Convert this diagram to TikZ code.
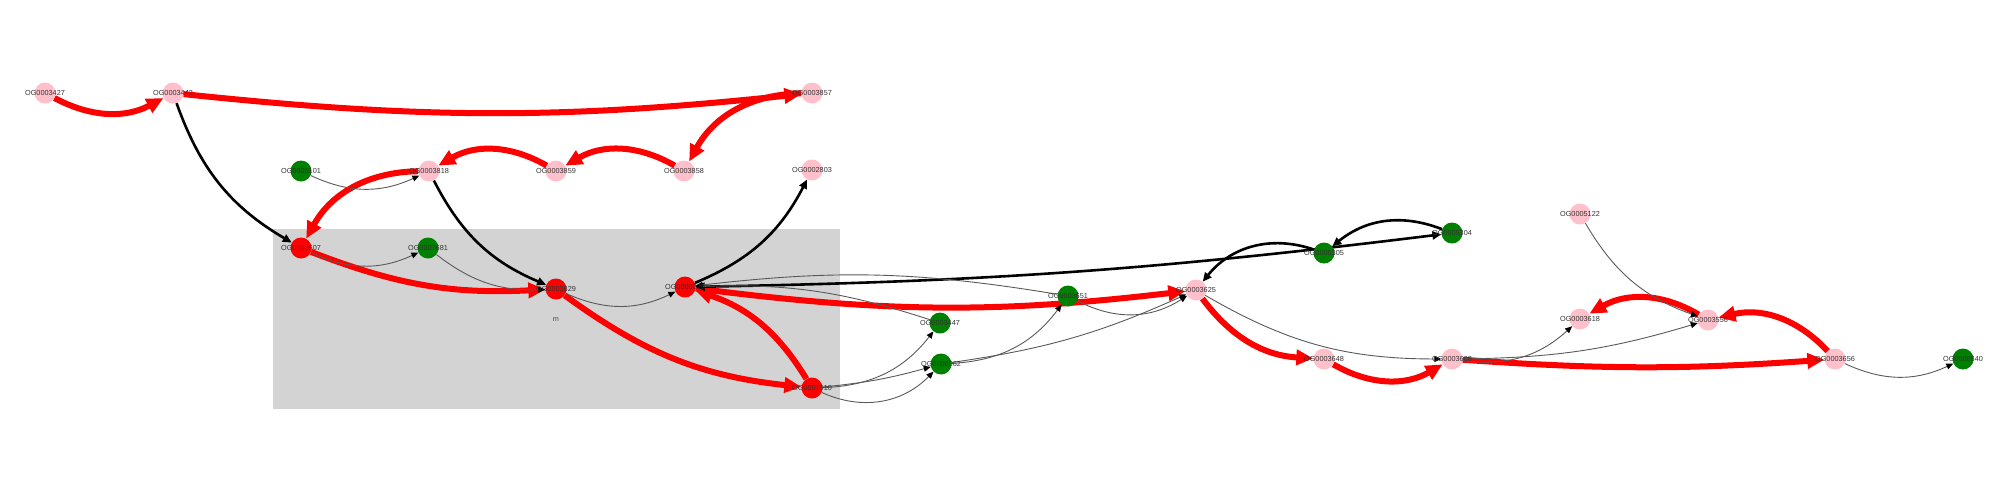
\documentclass[tikz,border=0pt]{standalone}
\usepackage{fontspec}
\setmainfont{Liberation Sans}
\usetikzlibrary{arrows.meta}
\pgfdeclarelayer{back}
\pgfdeclarelayer{links}
\pgfsetlayers{back,links,main}
\definecolor{ogpink}{HTML}{FFC0CB}
\definecolor{oggreen}{HTML}{008000}
\definecolor{ogred}{HTML}{FF0000}
\definecolor{oggray}{HTML}{D3D3D3}

\tikzset{
  hottip/.tip={Triangle[length=17pt,width=15pt]},
  strongtip/.tip={Triangle[length=9pt,width=8pt]},
  weaktip/.tip={Triangle[length=7pt,width=6pt,color=black]},
  og/.style={circle, minimum size=21pt, inner sep=0pt, fill=#1},
  oglabel/.style={font=\fontsize{7.3}{8}\selectfont, text=black!80, inner sep=0pt},
  hot/.style={ogred, line width=6pt, -hottip},
  strong/.style={black, line width=2.6pt, -strongtip},
  weak/.style={black!65, line width=0.9pt, -weaktip},
}

\begin{document}
\begin{tikzpicture}[x=1pt,y=-1pt]
\useasboundingbox (0,0) rectangle (1999,480);

% module box
\begin{pgfonlayer}{back}
\fill[oggray] (273,229) rectangle (840,409);
\end{pgfonlayer}
\node[oglabel, text=black!70] (mlabel) at (556,320) {m};

% orthogroups
\node[og=ogpink, label={[oglabel]center:OG0003427}] (n3427) at (45,93) {};
\node[og=ogpink, label={[oglabel]center:OG0003442}] (n3442) at (173,93) {};
\node[og=ogpink, label={[oglabel]center:OG0003857}] (n3857) at (812,93) {};
\node[og=oggreen, label={[oglabel]center:OG0000101}] (n0101) at (301,171) {};
\node[og=ogpink, label={[oglabel]center:OG0003818}] (n3818) at (429,171) {};
\node[og=ogpink, label={[oglabel]center:OG0003859}] (n3859) at (556,171) {};
\node[og=ogpink, label={[oglabel]center:OG0003858}] (n3858) at (684,171) {};
\node[og=ogpink, label={[oglabel]center:OG0002803}] (n2803) at (812,170) {};
\node[og=ogred, label={[oglabel]center:OG0003607}] (n3607) at (301,248) {};
\node[og=oggreen, label={[oglabel]center:OG0007681}] (n7681) at (428,248) {};
\node[og=ogred, label={[oglabel]center:OG0003829}] (n3829) at (556,289) {};
\node[og=ogred, label={[oglabel]center:OG0000229}] (n0229) at (685,287) {};
\node[og=ogred, label={[oglabel]center:OG0001910}] (n1910) at (812,388) {};
\node[og=oggreen, label={[oglabel]center:OG0003447}] (n3447) at (940,323) {};
\node[og=oggreen, label={[oglabel]center:OG0006862}] (n6862) at (941,364) {};
\node[og=oggreen, label={[oglabel]center:OG0003651}] (n3651) at (1068,296) {};
\node[og=ogpink, label={[oglabel]center:OG0003625}] (n3625) at (1196,290) {};
\node[og=oggreen, label={[oglabel]center:OG0005305}] (n5305) at (1324,253) {};
\node[og=oggreen, label={[oglabel]center:OG0005304}] (n5304) at (1452,233) {};
\node[og=ogpink, label={[oglabel]center:OG0005122}] (n5122) at (1580,214) {};
\node[og=ogpink, label={[oglabel]center:OG0003618}] (n3618) at (1580,319) {};
\node[og=ogpink, label={[oglabel]center:OG0003556}] (n3556) at (1708,320) {};
\node[og=ogpink, label={[oglabel]center:OG0003648}] (n3648) at (1324,359) {};
\node[og=ogpink, label={[oglabel]center:OG0003608}] (n3608) at (1452,359) {};
\node[og=ogpink, label={[oglabel]center:OG0003656}] (n3656) at (1835,359) {};
\node[og=oggreen, label={[oglabel]center:OG0006840}] (n6840) at (1963,359) {};

\begin{pgfonlayer}{links}
% red path
\draw[hot] (n3427) to[bend right=28] (n3442);
\draw[hot] (n3442) to[bend right=6] (n3857);
\draw[hot] (n3857) to[bend right=30] (n3858);
\draw[hot] (n3858) to[bend right=30] (n3859);
\draw[hot] (n3859) to[bend right=30] (n3818);
\draw[hot] (n3818) to[bend right=30] (n3607);
\draw[hot] (n3607) to[bend right=12] (n3829);
\draw[hot] (n3829) to[bend right=15] (n1910);
\draw[hot] (n1910) to[bend right=20] (n0229);
\draw[hot] (n0229) to[bend right=7] (n3625);
\draw[hot] (n3625) to[bend right=25] (n3648);
\draw[hot] (n3648) to[bend right=30] (n3608);
\draw[hot] (n3608) to[bend right=4] (n3656);
\draw[hot] (n3656) to[bend right=30] (n3556);
\draw[hot] (n3556) to[bend right=30] (n3618);

% strong links
\draw[strong] (n3442) to[bend right=20] (n3607);
\draw[strong] (n3818) to[bend right=20] (n3829);
\draw[strong] (n0229) to[bend right=20] (n2803);
\draw[strong, strongtip-strongtip] (n0229) to[bend right=3] (n5304);
\draw[strong] (n5305) to[bend right=35] (n3625);
\draw[strong] (n5304) to[bend right=30] (n5305);

% weak links
\draw[weak] (n0101) to[bend right=25] (n3818);
\draw[weak] (n3607) to[bend right=25] (n7681);
\draw[weak] (n7681) to[bend right=20] (n3829);
\draw[weak] (n3829) to[bend right=25] (n0229);
\draw[weak] (n1910) to[bend right=25] (n3447);
\draw[weak] (n1910) to[bend right=5] (n6862);
\draw[weak] (n1910) to[bend right=35] (n6862);
\draw[weak] (n6862) to[bend right=25] (n3651);
\draw[weak] (n6862) to[bend right=8] (n3625);
\draw[weak] (n3447) to[bend right=10] (n0229);
\draw[weak] (n3651) to[bend right=8] (n0229);
\draw[weak] (n3651) to[bend right=30] (n3625);
\draw[weak] (n3625) to[bend right=15] (n3608);
\draw[weak] (n3608) to[bend right=25] (n3618);
\draw[weak] (n3608) to[bend right=8] (n3556);
\draw[weak] (n5122) to[bend right=20] (n3556);
\draw[weak] (n3656) to[bend right=25] (n6840);
\end{pgfonlayer}
\end{tikzpicture}
\end{document}
